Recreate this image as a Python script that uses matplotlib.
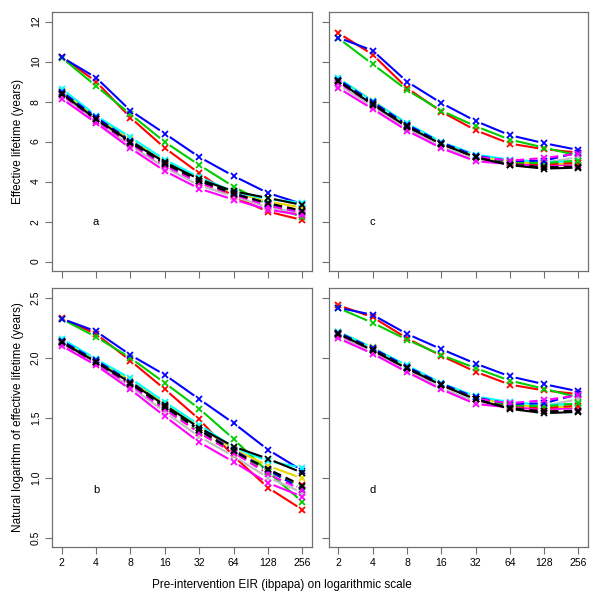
import matplotlib
matplotlib.use("Agg")
import matplotlib.pyplot as plt
import numpy as np

plt.rcParams['font.family'] = ['Liberation Sans', 'DejaVu Sans']

eir = [2, 4, 8, 16, 32, 64, 128, 256]

# upper group (panel a / c values, years)
upper_colors = ["red", "#00CD00", "blue"]
upper_a = [
    [10.25, 9.00, 7.20, 5.68, 4.42, 3.25, 2.50, 2.08],
    [10.20, 8.78, 7.37, 5.98, 4.83, 3.75, 2.85, 2.22],
    [10.22, 9.20, 7.55, 6.40, 5.23, 4.28, 3.43, 2.88],
]
upper_c = [
    [11.43, 10.35, 8.68, 7.50, 6.57, 5.90, 5.62, 5.45],
    [11.17, 9.87, 8.58, 7.55, 6.77, 6.10, 5.70, 5.30],
    [11.20, 10.55, 9.00, 7.93, 7.03, 6.32, 5.92, 5.58],
]

# lower group
lower_colors = ["#BEBEBE", "magenta", "#E6D800", "cyan", "red", "#00CD00",
                "blue", "magenta", "black", "black"]
lower_styles = ["-", "-", "-", "-", "--", "--", "--", "--", "--", "-"]
lower_a = [
    [8.30, 7.00, 5.80, 4.70, 3.82, 3.25, 2.72, 2.40],
    [8.15, 6.93, 5.67, 4.53, 3.65, 3.10, 2.60, 2.32],
    [8.55, 7.25, 6.12, 5.02, 4.15, 3.45, 3.00, 2.70],
    [8.65, 7.30, 6.22, 5.10, 4.22, 3.50, 3.12, 2.95],
    [8.45, 7.15, 5.95, 4.85, 3.95, 3.35, 2.88, 2.55],
    [8.45, 7.18, 5.98, 4.88, 4.00, 3.40, 2.86, 2.52],
    [8.50, 7.22, 6.05, 4.95, 4.05, 3.42, 2.90, 2.46],
    [8.35, 7.05, 5.88, 4.80, 3.95, 3.35, 2.80, 2.45],
    [8.40, 7.12, 5.95, 4.90, 4.05, 3.38, 2.92, 2.54],
    [8.40, 7.13, 6.00, 4.97, 4.12, 3.52, 3.18, 2.83],
]
lower_c = [
    [8.85, 7.75, 6.65, 5.75, 5.10, 4.95, 4.95, 5.22],
    [8.68, 7.63, 6.55, 5.67, 5.02, 4.88, 4.80, 4.85],
    [9.15, 8.05, 6.88, 5.95, 5.30, 5.00, 4.88, 4.92],
    [9.17, 8.02, 6.92, 5.98, 5.35, 5.10, 4.98, 5.02],
    [9.05, 7.95, 6.80, 5.92, 5.25, 4.95, 4.85, 4.95],
    [9.05, 7.95, 6.82, 5.92, 5.25, 4.97, 4.92, 5.05],
    [9.10, 7.98, 6.85, 5.95, 5.30, 5.02, 5.05, 5.45],
    [8.95, 7.85, 6.75, 5.88, 5.25, 5.05, 5.18, 5.40],
    [9.02, 7.90, 6.78, 5.90, 5.22, 4.85, 4.72, 4.75],
    [9.02, 7.85, 6.75, 5.88, 5.22, 4.82, 4.65, 4.70],
]

ylin_ticks = [0, 2, 4, 6, 8, 10, 12]
ylog_ticks = [0.5, 1.0, 1.5, 2.0, 2.5]

fig = plt.figure(figsize=(6, 6), dpi=100)
frame = "#707070"


def make_ax(rect, ylim, yticks, ylabels, xlabels):
    ax = fig.add_axes(rect)
    ax.set_xscale("log", base=2)
    ax.set_xlim(2 ** 0.72, 2 ** 8.28)
    ax.set_ylim(*ylim)
    ax.set_xticks(eir)
    ax.minorticks_off()
    ax.set_xticklabels([str(e) for e in eir] if xlabels else [])
    ax.set_yticks(yticks)
    if ylabels:
        ax.set_yticklabels([str(t) if isinstance(t, int) else f"{t:.1f}" for t in yticks],
                           rotation=90, va="center")
    else:
        ax.set_yticklabels([])
    ax.tick_params(length=5, width=0.8, color=frame, labelsize=7.5, pad=3)
    for s in ax.spines.values():
        s.set_color(frame)
        s.set_linewidth(0.9)
    return ax


def gapped(ax, ys, color, ls, gap=6):
    # R type="b": segments stop short of each point
    pts = ax.transData.transform(np.column_stack([eir, ys]))
    inv = ax.transData.inverted()
    for p0, p1 in zip(pts[:-1], pts[1:]):
        d = p1 - p0
        L = np.hypot(*d)
        if L <= 2 * gap:
            continue
        u = d / L
        seg = inv.transform(np.array([p0 + u * gap, p1 - u * gap]))
        ax.plot(seg[:, 0], seg[:, 1], color=color, lw=1.5,
                ls=ls, dashes=(4, 2.5) if ls == "--" else (None, None),
                solid_capstyle="butt")
    ax.plot(eir, ys, ls="none", marker="x", ms=5, mew=1.3, color=color)


def draw(ax, upper, lower, log):
    for col, ys in zip(upper_colors, upper):
        ys = np.log(ys) if log else np.array(ys)
        gapped(ax, ys, col, "-")
    for col, ls, ys in zip(lower_colors, lower_styles, lower):
        ys = np.log(ys) if log else np.array(ys)
        gapped(ax, ys, col, ls)


lin_lim = (-0.48, 12.48)
log_lim = (0.42, 2.58)

ax_a = make_ax([0.0867, 0.548, 0.4333, 0.432], lin_lim, ylin_ticks, True, False)
ax_c = make_ax([0.548, 0.548, 0.432, 0.432], lin_lim, ylin_ticks, False, False)
ax_b = make_ax([0.0867, 0.088, 0.4333, 0.432], log_lim, ylog_ticks, True, True)
ax_d = make_ax([0.548, 0.088, 0.432, 0.432], log_lim, ylog_ticks, False, True)

draw(ax_a, upper_a, lower_a, False)
draw(ax_c, upper_c, lower_c, False)
draw(ax_b, upper_a, lower_a, True)
draw(ax_d, upper_c, lower_c, True)

for ax, lab, y in [(ax_a, "a", 2.0), (ax_c, "c", 2.0), (ax_b, "b", 0.9), (ax_d, "d", 0.9)]:
    ax.text(4, y, lab, fontsize=8, ha="center", va="center")

fig.text(0.03, 0.765, "Effective lifetime (years)", rotation=90,
         ha="center", va="center", fontsize=8.5)
fig.text(0.03, 0.305, "Natural logarithm of effective lifetime (years)", rotation=90,
         ha="center", va="center", fontsize=8.5)
fig.text(0.47, 0.025, "Pre-intervention EIR (ibpapa) on logarithmic scale",
         ha="center", va="center", fontsize=8.5)

fig.savefig("out.png", dpi=100)
